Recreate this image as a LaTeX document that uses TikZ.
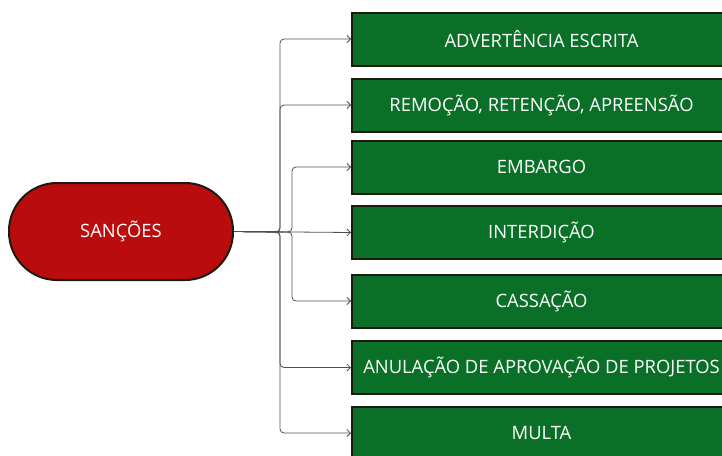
\documentclass[tikz,border=0pt]{standalone}
\usepackage{fontspec}
\setmainfont{Open Sans}
\usetikzlibrary{arrows.meta}
\definecolor{boxgreen}{RGB}{10,112,40}
\definecolor{boxred}{RGB}{186,12,12}
\definecolor{edgedark}{RGB}{30,26,16}
\definecolor{linegray}{RGB}{80,80,80}
\tikzset{
  sbox/.style={draw=edgedark, line width=2pt, fill=boxgreen, text=white,
    minimum width=379pt, minimum height=53pt, inner sep=0pt,
    font=\fontsize{18.4}{22}\selectfont},
  sroot/.style={draw=edgedark, line width=2pt, fill=boxred, text=white,
    minimum width=224pt, minimum height=97pt, rounded corners=48pt,
    font=\fontsize{18.4}{22}\selectfont},
  conn/.style={draw=linegray, line width=0.8pt, rounded corners=4pt,
    -{Straight Barb[length=3.5pt,width=7pt]}}
}
\begin{document}
\begin{tikzpicture}[x=1pt,y=-1pt]
\useasboundingbox (0,0) rectangle (722,455);
\clip (0,0) rectangle (722,455);
\fill[white] (0,0) rectangle (722,455);
\node[sroot] (root) at (121,231.5) {SANÇÕES};
\node[sbox] (b1) at (541.5,39) {ADVERTÊNCIA ESCRITA};
\node[sbox] (b2) at (541.5,105) {REMOÇÃO, RETENÇÃO, APREENSÃO};
\node[sbox] (b3) at (541.5,167) {EMBARGO};
\node[sbox] (b4) at (541.5,232.5) {INTERDIÇÃO};
\node[sbox] (b5) at (541.5,301) {CASSAÇÃO};
\node[sbox] (b6) at (541.5,367.5) {ANULAÇÃO DE APROVAÇÃO DE PROJETOS};
\node[sbox] (b7) at (541.5,433) {MULTA};
\coordinate (jo) at (280,232);
\coordinate (ji) at (292,232);
\draw[conn] (root.east) -- (jo) -- (jo |- b1.west) -- (b1.west);
\draw[conn] (root.east) -- (jo) -- (jo |- b2.west) -- (b2.west);
\draw[conn] (root.east) -- (ji) -- (ji |- b3.west) -- (b3.west);
\draw[conn] (root.east) -- (b4.west);
\draw[conn] (root.east) -- (ji) -- (ji |- b5.west) -- (b5.west);
\draw[conn] (root.east) -- (jo) -- (jo |- b6.west) -- (b6.west);
\draw[conn] (root.east) -- (jo) -- (jo |- b7.west) -- (b7.west);
\end{tikzpicture}
\end{document}
